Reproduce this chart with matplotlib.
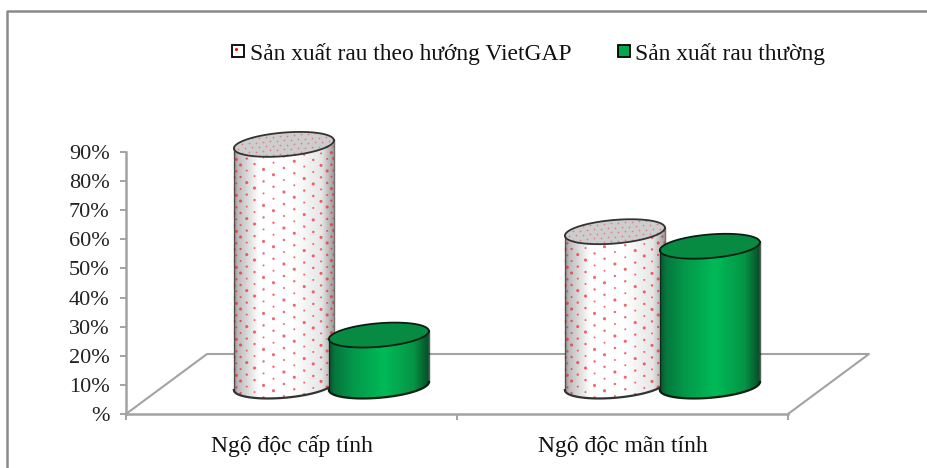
import numpy as np
import matplotlib
matplotlib.use('Agg')
import matplotlib.pyplot as plt
from matplotlib.lines import Line2D
from matplotlib.patches import Polygon, Rectangle

plt.rcParams['font.family'] = ['Liberation Serif', 'DejaVu Serif']

# %% data
categories = ['Ngộ độc cấp tính', 'Ngộ độc mãn tính']
vietgap = [83, 53]
thuong = [17.5, 48]
series_names = ['Sản xuất rau theo hướng VietGAP', 'Sản xuất rau thường']
yticks = [0, 10, 20, 30, 40, 50, 60, 70, 80, 90]
ylabels = ['%', '10%', '20%', '30%', '40%', '50%', '60%', '70%', '80%', '90%']

# %% layout, in reference pixels
W, H = 928, 468
L, R, T, B = 126, 788, 152, 414
GREY = '#a3a3a3'
sx = 2 / (R - L)        # data per pixel
sy = 90 / (B - T)

fig = plt.figure(figsize=(W / 100, H / 100), dpi=100)
ax = fig.add_axes([L / W, 1 - B / H, (R - L) / W, (B - T) / H])
ax.set_xlim(0, 2)
ax.set_ylim(0, 90)
for s in ['top', 'right']:
    ax.spines[s].set_visible(False)
for s in ['left', 'bottom']:
    ax.spines[s].set_color(GREY)
    ax.spines[s].set_linewidth(1.8)
ax.set_yticks(yticks)
ax.set_yticklabels(ylabels, fontsize=16)
ax.set_xticks([0, 1, 2])
ax.set_xticklabels([])
ax.tick_params(axis='both', color=GREY, width=1.4, length=4.3)
ax.tick_params(axis='y', labelcolor='#222222', pad=7.5)

# floor
dx, dy = 81 * sx, 60 * sy
ax.plot([0, dx, 2 + dx, 2], [0, dy, dy, 0], color=GREY, lw=1.5, clip_on=False, zorder=1)

for i, c in enumerate(categories):
    ax.text(i + 0.5, -13, c, ha='center', va='baseline', fontsize=17, color='#111111')


# %% cylinders
def ring(xc, yc, t):
    a, b, s = 50, 11.8, 4
    return xc + a * sx * np.cos(t), yc + (b * np.sin(t) + s * np.cos(t)) * sy


def cylinder(xc, val, grad, lid, edge, dots, z):
    base = 28 * sy
    top = base + val
    t = np.linspace(0, 2 * np.pi, 120)
    lower = np.linspace(np.pi, 2 * np.pi, 60)
    upper = np.linspace(0, np.pi, 60)
    # body outline: lower half of the base, upper half of the top
    bx, by = ring(xc, base, lower)
    tx, ty = ring(xc, top, upper)
    body = Polygon(np.r_[np.c_[bx, by], np.c_[tx, ty]], closed=True, transform=ax.transData)

    cols = np.array(grad[1])
    pos = np.linspace(0, 1, 200)
    img = np.stack([np.interp(pos, grad[0], cols[:, k]) for k in range(3)], axis=-1)[None, :, :]
    a = 50 * sx
    im = ax.imshow(img, extent=[xc - a, xc + a, base - 20 * sy, top + 20 * sy], aspect='auto',
                   zorder=z, interpolation='bilinear')
    im.set_clip_path(body)
    im.set_clip_box(fig.bbox)

    lx, ly = ring(xc, top, t)
    ax.fill(lx, ly, color=lid, lw=0, zorder=z + 0.2, clip_on=False)

    if dots:
        # printed dot texture on the side and on the lid
        px, py, ps = [], [], []
        for col in range(-7, 8):
            u = col / 7.5
            x0 = 50 * np.sin(u * np.pi / 2)
            yy = np.arange(-30, (top + 30 * sy) / sy, 12) + (col % 2) * 6
            for j, yv in enumerate(yy):
                px.append(xc + x0 * sx)
                py.append((yv + 0.07 * x0) * sy)
                ps.append([5, 2, 3][(j + col) % 3])
        sc = ax.scatter(px, py, s=ps, color='#f5222d', alpha=0.7, lw=0, zorder=z + 0.1)
        sc.set_clip_path(body)
        sc.set_clip_box(fig.bbox)
        # lid dots
        gx, gy = np.meshgrid(np.arange(-49, 50, 7.0), np.arange(-14, 15, 4.5))
        gx[1::2] += 3.5
        lid_path = Polygon(np.c_[lx, ly], closed=True, transform=ax.transData)
        sc2 = ax.scatter(xc + gx.ravel() * sx, top + (gy.ravel() + 0.08 * gx.ravel()) * sy, s=1.5,
                         color='#f04048', alpha=0.55, lw=0, zorder=z + 0.3)
        sc2.set_clip_path(lid_path)
        sc2.set_clip_box(fig.bbox)

    ax.plot(lx, ly, color=edge, lw=1.3, zorder=z + 0.4, clip_on=False)
    ax.plot(bx, by, color=edge, lw=1.6, zorder=z + 0.4, clip_on=False)
    # the two sides
    ax.plot([bx[0], tx[-1]], [by[0], ty[-1]], color=edge, lw=1.0, alpha=0.7, zorder=z + 0.4, clip_on=False)
    ax.plot([bx[-1], tx[0]], [by[-1], ty[0]], color=edge, lw=1.0, alpha=0.7, zorder=z + 0.4, clip_on=False)


white_grad = ([0, 0.04, 0.25, 0.6, 0.88, 1],
              [[.58, .58, .58], [.74, .74, .74], [1, 1, 1], [1, 1, 1], [.9, .9, .9], [.62, .62, .62]])
green_grad = ([0, 0.06, 0.25, 0.55, 0.85, 1],
              [[.04, .33, .18], [.02, .47, .24], [.01, .6, .29], [0, .73, .34], [.02, .58, .27], [.03, .3, .16]])

xpos_a = [0.477, 1.477]
xpos_b = [0.764, 1.764]
z = 3
for i in range(2):
    cylinder(xpos_a[i], vietgap[i], white_grad, '#cdcdcd', '#333333', True, z)
    cylinder(xpos_b[i], thuong[i], green_grad, '#078a42', '#0a1f12', False, z + 1)
    z += 2
ax.set_xlim(0, 2)
ax.set_ylim(0, 90)


# %% legend and frame, figure level
def fx(p): return p / W
def fy(p): return 1 - p / H


fig.add_artist(Rectangle((fx(232), fy(57)), 12 / W, 12 / H, fc='white', ec='black', lw=1.3))
fig.add_artist(Line2D([fx(236)], [fy(49)], marker='o', ms=1.2, color='red', lw=0))
fig.add_artist(Rectangle((fx(618), fy(57)), 12 / W, 12 / H, fc='#00a84f', ec='black', lw=1.3))
fig.text(fx(250), fy(60), series_names[0], fontsize=16.9, color='#111111', va='baseline')
fig.text(fx(635), fy(60), series_names[1], fontsize=16.9, color='#111111', va='baseline')

fig.add_artist(Line2D([fx(7), fx(7), fx(928)], [fy(468), fy(11), fy(11)], color='#8a8a8a', lw=1.8))

fig.savefig('out.png', dpi=100)
